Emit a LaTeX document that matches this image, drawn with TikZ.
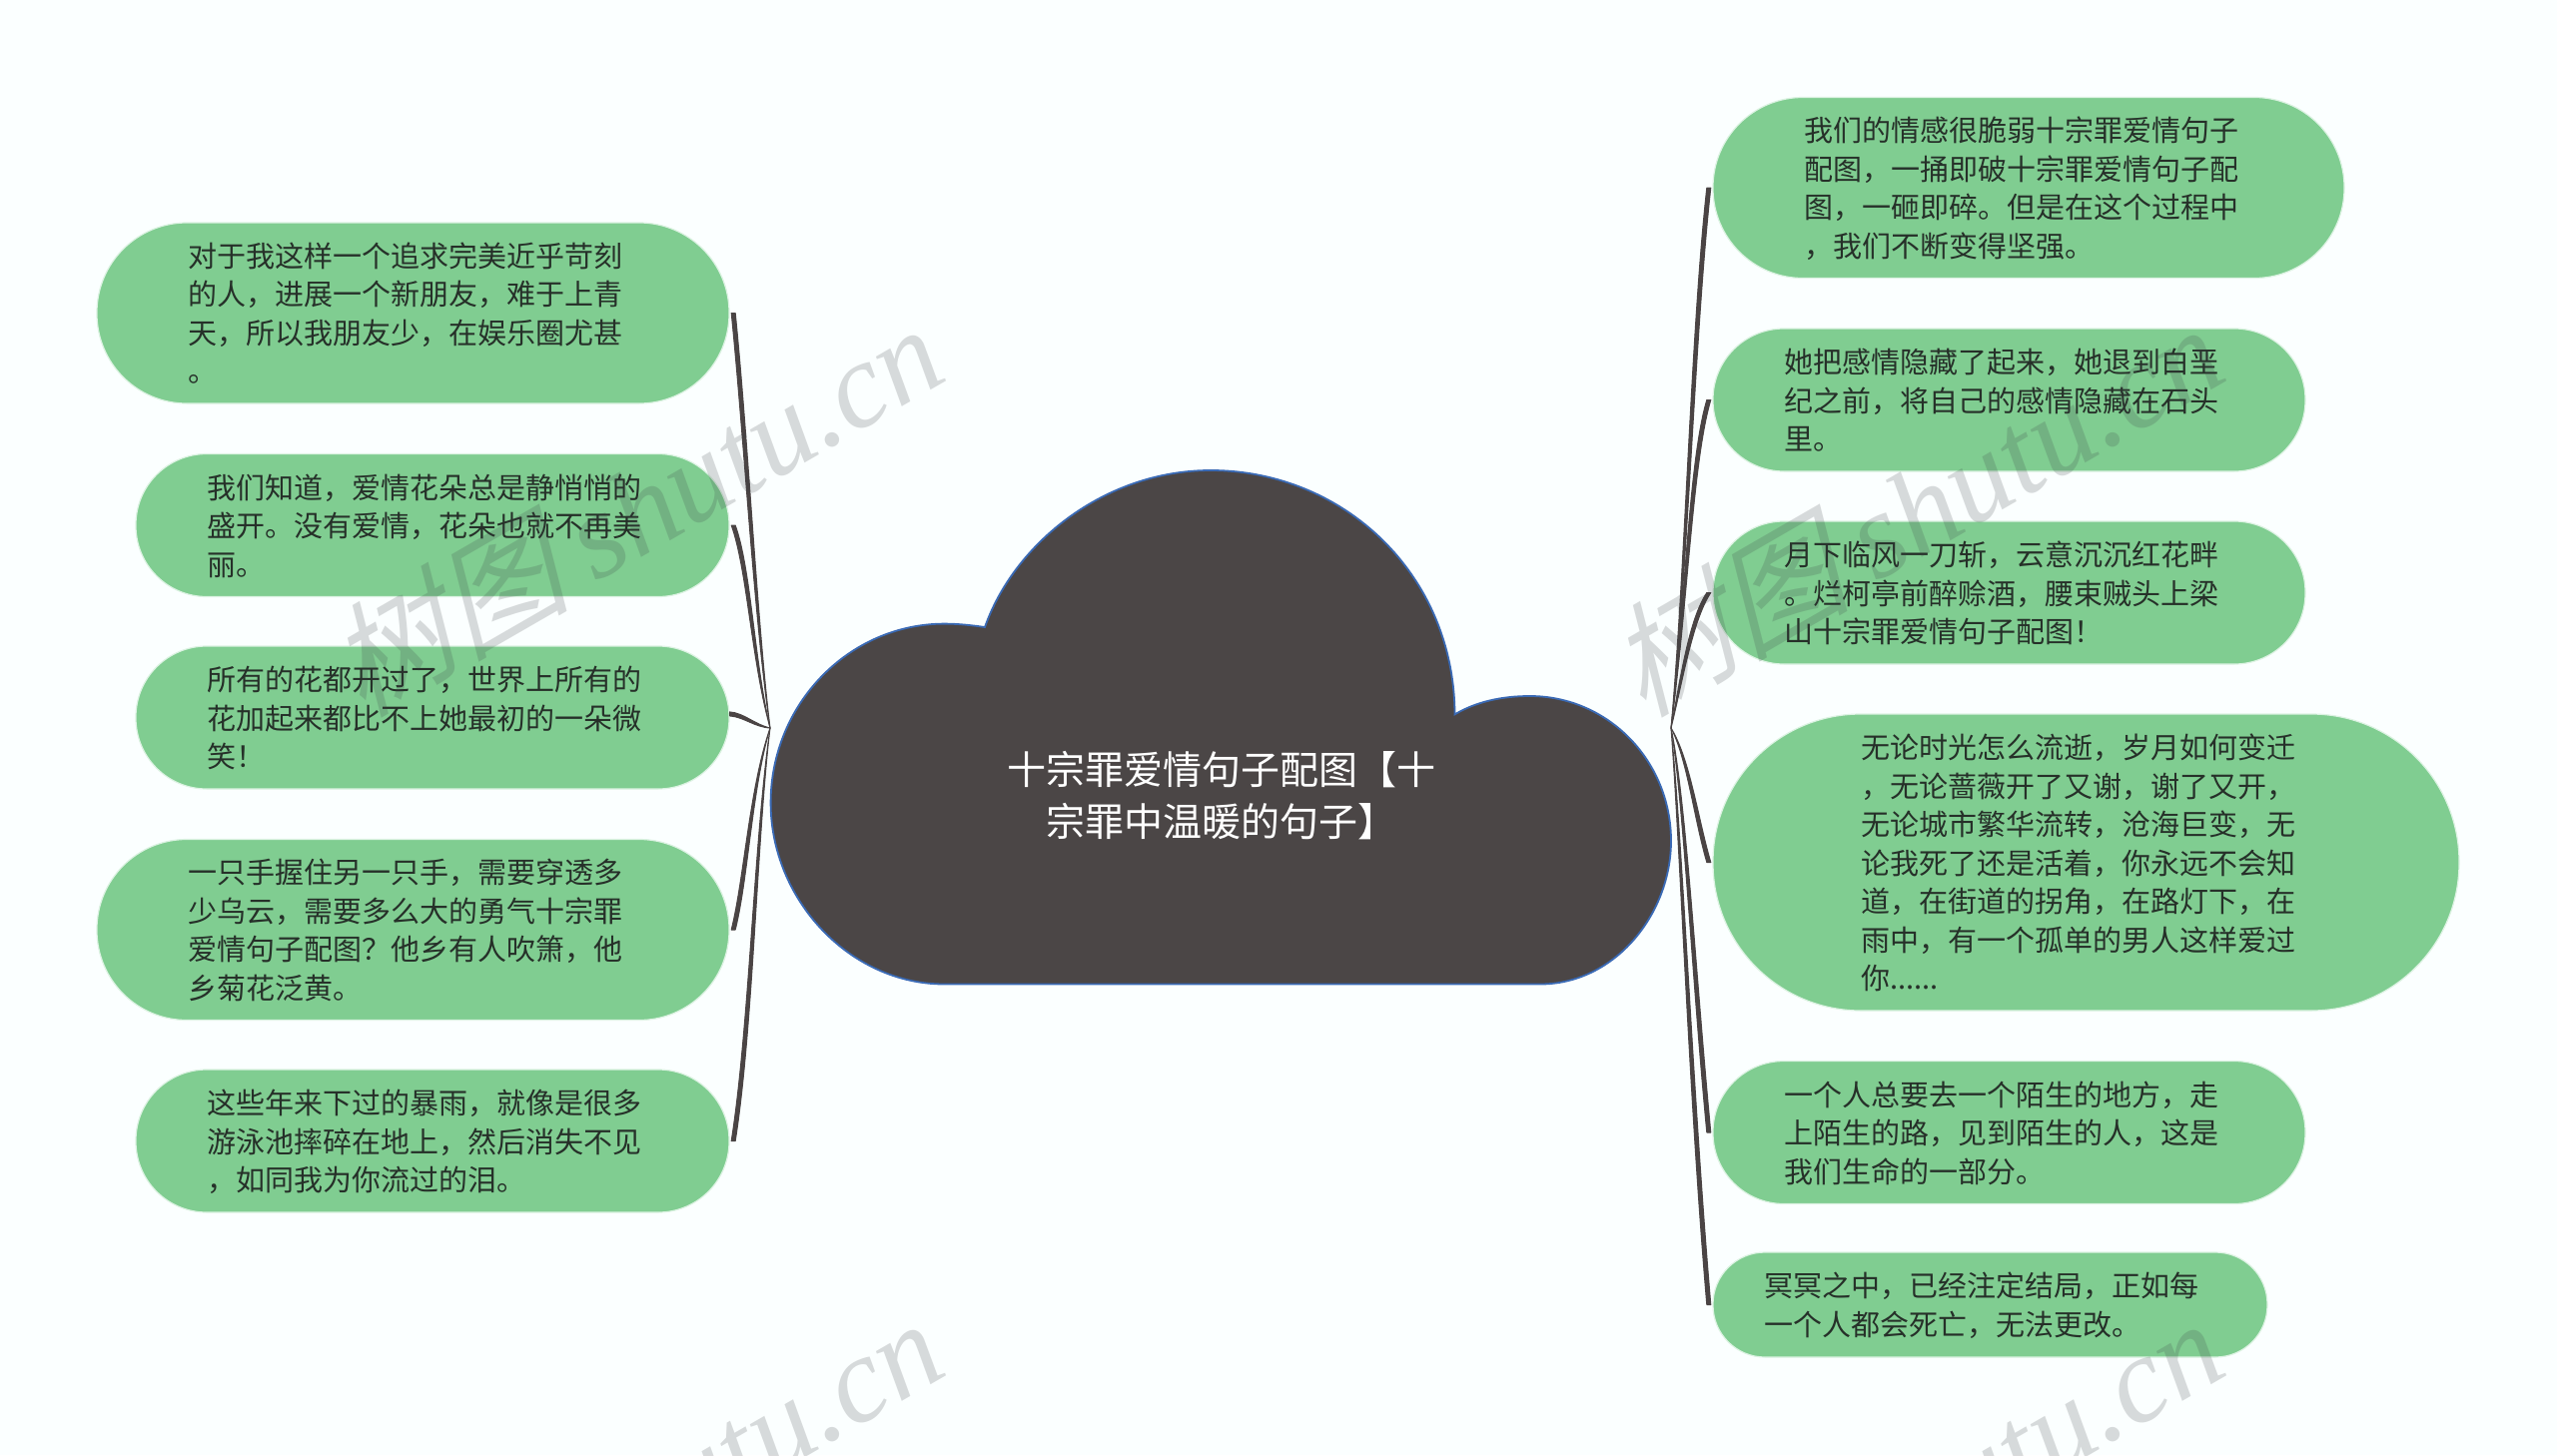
\documentclass[tikz,border=0pt]{standalone}
\usepackage{fontspec}
\setmainfont{Noto Sans CJK SC}
\newfontfamily\wmcjk[FakeSlant=0.28]{Noto Sans CJK SC}
\newfontfamily\wmlat{Liberation Serif}
\definecolor{pagebg}{HTML}{FBFFFF}
\definecolor{pillgreen}{HTML}{80CD91}
\definecolor{pilledge}{HTML}{DDF3E3}
\definecolor{cloudfill}{HTML}{4B4646}
\definecolor{cloudedge}{HTML}{3A6AB5}
\definecolor{branchcol}{HTML}{4A4444}
\definecolor{pilltext}{HTML}{263029}
\tikzset{
  pill/.style n args={4}{shape=rectangle,fill=pillgreen,draw=pilledge,line width=1.2pt,
    minimum width=#1pt,minimum height=#2pt,text width=#1pt,inner xsep=0pt,inner ysep=0pt,
    rounded corners=#4pt,align=left,text=pilltext,
    font=\fontsize{29}{38.5}\selectfont,
    execute at begin node={\leftskip=\dimexpr#3pt-0.5pt\relax\rule{0pt}{35pt}},execute at end node={\strut}},
  branch/.style={fill=branchcol,draw=branchcol,line width=1pt,line join=round},
  cloudshape/.style={fill=cloudfill,draw=cloudedge,line width=1.8pt,line join=miter},
  titletext/.style={text=white,align=center,font=\fontsize{39}{52}\selectfont},
  watermark/.style={text=black!85!cyan,opacity=0.19,rotate=30,inner sep=0pt,
    font=\fontsize{122}{122}\selectfont}
}
\newcommand{\taper}[6]{%
  \filldraw[branch] ([xshift=#5*0.4pt,yshift=#6*0.4pt]#1) .. controls (#2) and (#3) .. (#4)
    .. controls ([xshift=#5*0.7pt,yshift=#6*0.7pt]#3) and ([xshift=#5*1pt,yshift=#6*1pt]#2)
    .. ([xshift=#5*1.4pt,yshift=#6*1.4pt]#1) -- cycle;}
\newcommand{\wmark}{{\wmcjk 树图}\hspace{0.22em}{\wmlat\itshape shutu.cn}}
\begin{document}
\begin{tikzpicture}[x=1pt,y=-1pt]
\useasboundingbox (0,0) rectangle (2560,1457);
\fill[pagebg] (0,0) rectangle (2560,1457);

\coordinate (rootL) at (771,729);
\coordinate (rootR) at (1673,729);

% cloud
\path[cloudshape] (945.6,985.5) -- (1542,985.5)
  .. controls (1617,985.5) and (1673,915) .. (1673,842)
  .. controls (1673,762) and (1610,697) .. (1531.6,697)
  .. controls (1503,697) and (1477,703) .. (1456.5,715.4)
  .. controls (1456,575) and (1345,471) .. (1212,471)
  .. controls (1105,471) and (1015,545) .. (986,628)
  .. controls (972,626) and (959,624.6) .. (945.6,624.6)
  .. controls (850,624.6) and (771.6,705) .. (771.6,804)
  .. controls (771.6,900) and (850,985.5) .. (945.6,985.5) -- cycle;
\node[titletext] (title) at (1222.5,797) {十宗罪爱情句子配图【十\\宗罪中温暖的句子】};

% left pills
\node[pill={633}{181}{92}{90}] (L1) at (413.5,313.5) {对于我这样一个追求完美近乎苛刻\\的人，进展一个新朋友，难于上青\\天，所以我朋友少，在娱乐圈尤甚\\。};
\node[pill={594}{143}{72}{71}] (L2) at (433,526) {我们知道，爱情花朵总是静悄悄的\\盛开。没有爱情，花朵也就不再美\\丽。};
\node[pill={594}{143}{72}{71}] (L3) at (433,718.5) {所有的花都开过了，世界上所有的\\花加起来都比不上她最初的一朵微\\笑！};
\node[pill={633}{181}{92}{90}] (L4) at (413.5,931) {一只手握住另一只手，需要穿透多\\少乌云，需要多么大的勇气十宗罪\\爱情句子配图？他乡有人吹箫，他\\乡菊花泛黄。};
\node[pill={594}{143}{72}{71}] (L5) at (433,1142.5) {这些年来下过的暴雨，就像是很多\\游泳池摔碎在地上，然后消失不见\\，如同我为你流过的泪。};

% right pills
\node[pill={632}{181}{92}{90}] (R1) at (2031,188) {我们的情感很脆弱十宗罪爱情句子\\配图，一捅即破十宗罪爱情句子配\\图，一砸即碎。但是在这个过程中\\，我们不断变得坚强。};
\node[pill={593}{143}{72}{71}] (R2) at (2011.5,400.5) {她把感情隐藏了起来，她退到白垩\\纪之前，将自己的感情隐藏在石头\\里。};
\node[pill={593}{143}{72}{71}] (R3) at (2011.5,593.5) {月下临风一刀斩，云意沉沉红花畔\\。烂柯亭前醉赊酒，腰束贼头上梁\\山十宗罪爱情句子配图！};
\node[pill={747}{297}{149}{148}] (R4) at (2088.5,863.5) {无论时光怎么流逝，岁月如何变迁\\，无论蔷薇开了又谢，谢了又开，\\无论城市繁华流转，沧海巨变，无\\论我死了还是活着，你永远不会知\\道，在街道的拐角，在路灯下，在\\雨中，有一个孤单的男人这样爱过\\你......};
\node[pill={593}{143}{72}{71}] (R5) at (2011.5,1134) {一个人总要去一个陌生的地方，走\\上陌生的路，见到陌生的人，这是\\我们生命的一部分。};
\node[pill={555}{105}{52}{52}] (R6) at (1992.5,1306.5) {冥冥之中，已经注定结局，正如每\\一个人都会死亡，无法更改。};

% connectors
\taper{L1.east}{745,440}{755,620}{rootL}{4}{0}
\taper{L2.east}{748,570}{752,660}{rootL}{4}{0}
\taper{L3.east}{745,718}{755,728}{rootL}{0}{4}
\taper{L4.east}{745,880}{750,790}{rootL}{4}{0}
\taper{L5.east}{750,1030}{755,840}{rootL}{4}{0}
\taper{R1.west}{1697,330}{1690,570}{rootR}{-4}{0}
\taper{R2.west}{1695,460}{1690,600}{rootR}{-4}{0}
\taper{R3.west}{1695,620}{1685,680}{rootR}{-4}{0}
\taper{R4.west}{1700,820}{1692,760}{rootR}{-4}{0}
\taper{R5.west}{1698,980}{1688,800}{rootR}{-4}{0}
\taper{R6.west}{1695,1100}{1685,850}{rootR}{-4}{0}

% watermarks
\begin{scope}
\clip (0,0) rectangle (2560,1457);
\node[watermark] (w1) at (634,509) {\wmark};
\node[watermark] (w2) at (1916,509) {\wmark};
\node[watermark] (w3) at (634,1505) {\wmark};
\node[watermark] (w4) at (1916,1505) {\wmark};
\end{scope}
\end{tikzpicture}
\end{document}
